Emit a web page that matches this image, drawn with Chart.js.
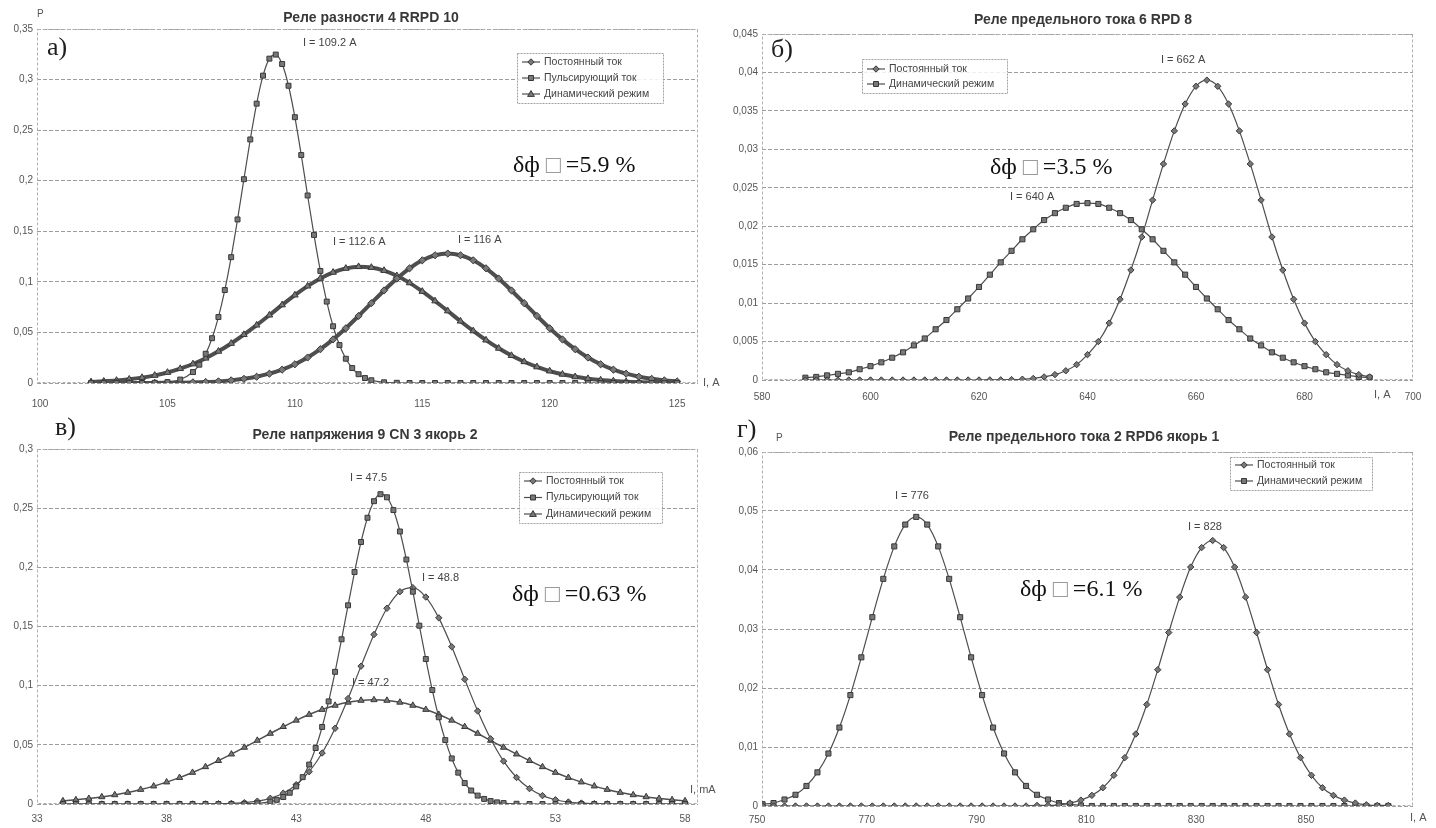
<!DOCTYPE html>
<html lang="ru">
<head>
<meta charset="utf-8">
<title>Распределения токов срабатывания реле</title>
<script src="https://cdn.jsdelivr.net/npm/chart.js"></script>
<style>
  html, body { margin: 0; padding: 0; background: #fff; }
  body { width: 1436px; height: 828px; position: relative; overflow: hidden; }
  .panel { position: absolute; }
</style>
</head>
<body>
<div class="panel" style="left:0;top:0;width:730px;height:412px"><canvas id="chartA"></canvas></div>
<div class="panel" style="left:718px;top:0;width:718px;height:412px"><canvas id="chartB"></canvas></div>
<div class="panel" style="left:0;top:412px;width:730px;height:416px"><canvas id="chartC"></canvas></div>
<div class="panel" style="left:718px;top:412px;width:718px;height:416px"><canvas id="chartD"></canvas></div>
<script>
// ---- a) Реле разности 4 RRPD 10 ----
const xA = [102,102.5,103,103.5,104,104.5,105,105.5,106,106.5,107,107.5,108,108.5,109,109.5,110,110.5,111,111.5,112,112.5,113,113.5,114,114.5,115,115.5,116,116.5,117,117.5,118,118.5,119,119.5,120,120.5,121,121.5,122,122.5,123,123.5,124,124.5,125];
const constA = [0,0,0,0,0.0001,0.0001,0.0002,0.0003,0.0006,0.0010,0.0016,0.0026,0.0041,0.0062,0.0092,0.0132,0.0185,0.0252,0.0334,0.0431,0.0541,0.0663,0.0789,0.0915,0.1032,0.1134,0.1213,0.1263,0.1280,0.1263,0.1213,0.1134,0.1032,0.0915,0.0789,0.0663,0.0541,0.0431,0.0334,0.0252,0.0185,0.0132,0.0092,0.0062,0.0041,0.0026,0.0016];
const dynA = [0.0011,0.0017,0.0025,0.0037,0.0053,0.0075,0.0104,0.0142,0.0188,0.0245,0.0313,0.0391,0.0478,0.0572,0.0671,0.0772,0.0869,0.0958,0.1034,0.1094,0.1133,0.1150,0.1142,0.1112,0.1060,0.0990,0.0905,0.0811,0.0712,0.0611,0.0515,0.0424,0.0343,0.0271,0.0210,0.0159,0.0118,0.0086,0.0061,0.0043,0.0029,0.0020,0.0013,0.0008,0.0005,0.0003,0.0002];
const xAPulse = [102,102.5,103,103.5,104,104.5,105,105.5,106,106.25,106.5,106.75,107,107.25,107.5,107.75,108,108.25,108.5,108.75,109,109.25,109.5,109.75,110,110.25,110.5,110.75,111,111.25,111.5,111.75,112,112.25,112.5,112.75,113,113.5,114,114.5,115,115.5,116,116.5,117,117.5,118,118.5,119,119.5,120,120.5,121,121.5,122,122.5,123,123.5,124,124.5,125];
const pulseA = [0,0,0,0,0,0.0002,0.0009,0.0034,0.0108,0.0181,0.0289,0.0443,0.0652,0.0919,0.1244,0.1617,0.2015,0.2408,0.2762,0.3039,0.3207,0.3247,0.3154,0.2939,0.2628,0.2254,0.1854,0.1464,0.1108,0.0805,0.0561,0.0375,0.0240,0.0148,0.0087,0.0049,0.0027,0.0007,0.0002,0,0,0,0,0,0,0,0,0,0,0,0,0,0,0,0,0,0,0,0,0,0];
const ticksXA = [100,105,110,115,120,125];
const ticksYA = [0,0.05,0.1,0.15,0.2,0.25,0.3,0.35];

// ---- б) Реле предельного тока 6 RPD 8 ----
const xB = [588,590,592,594,596,598,600,602,604,606,608,610,612,614,616,618,620,622,624,626,628,630,632,634,636,638,640,642,644,646,648,650,652,654,656,658,660,662,664,666,668,670,672,674,676,678,680,682,684,686,688,690,692];
const constB = [0,0,0,0,0,0,0,0,0,0,0,0,0,0,0,0,0,0.00001,0.00002,0.00005,0.0001,0.0002,0.0004,0.0007,0.0012,0.0020,0.0033,0.0050,0.0074,0.0105,0.0143,0.0186,0.0234,0.0281,0.0324,0.0359,0.0382,0.0390,0.0382,0.0359,0.0324,0.0281,0.0234,0.0186,0.0143,0.0105,0.0074,0.0050,0.0033,0.0020,0.0012,0.0007,0.0004];
const dynB = [0.0003,0.0004,0.0006,0.0008,0.0010,0.0014,0.0018,0.0023,0.0029,0.0036,0.0045,0.0054,0.0066,0.0078,0.0092,0.0106,0.0121,0.0137,0.0153,0.0168,0.0183,0.0196,0.0208,0.0217,0.0224,0.0229,0.0230,0.0229,0.0224,0.0217,0.0208,0.0196,0.0183,0.0168,0.0153,0.0137,0.0121,0.0106,0.0092,0.0078,0.0066,0.0054,0.0045,0.0036,0.0029,0.0023,0.0018,0.0014,0.0010,0.0008,0.0006,0.0004,0.0003];
const ticksXB = [580,600,620,640,660,680,700];
const ticksYB = [0,0.005,0.01,0.015,0.02,0.025,0.03,0.035,0.04,0.045];

// ---- в) Реле напряжения 9 CN 3 якорь 2 ----
const xC = [34,34.5,35,35.5,36,36.5,37,37.5,38,38.5,39,39.5,40,40.5,41,41.5,42,42.5,43,43.5,44,44.5,45,45.5,46,46.5,47,47.5,48,48.5,49,49.5,50,50.5,51,51.5,52,52.5,53,53.5,54,54.5,55,55.5,56,56.5,57,57.5,58];
const constC = [0,0,0,0,0,0,0,0,0,0,0.00003,0.0001,0.0002,0.0005,0.0011,0.0024,0.0048,0.0091,0.0163,0.0273,0.0431,0.0640,0.0891,0.1165,0.1432,0.1654,0.1794,0.1828,0.1749,0.1573,0.1329,0.1054,0.0786,0.0551,0.0362,0.0224,0.0130,0.0071,0.0036,0.0017,0.0008,0.0003,0.0001,0,0,0,0,0,0];
const dynC = [0.0026,0.0035,0.0046,0.0060,0.0077,0.0097,0.0122,0.0151,0.0185,0.0223,0.0266,0.0314,0.0366,0.0421,0.0478,0.0537,0.0596,0.0653,0.0707,0.0756,0.0798,0.0833,0.0859,0.0875,0.0880,0.0875,0.0859,0.0833,0.0798,0.0756,0.0707,0.0653,0.0596,0.0537,0.0478,0.0421,0.0366,0.0314,0.0266,0.0223,0.0185,0.0151,0.0122,0.0097,0.0077,0.0060,0.0046,0.0035,0.0026];
const xCPulse = [34,34.5,35,35.5,36,36.5,37,37.5,38,38.5,39,39.5,40,40.5,41,41.5,42,42.25,42.5,42.75,43,43.25,43.5,43.75,44,44.25,44.5,44.75,45,45.25,45.5,45.75,46,46.25,46.5,46.75,47,47.25,47.5,47.75,48,48.25,48.5,48.75,49,49.25,49.5,49.75,50,50.25,50.5,50.75,51,51.5,52,52.5,53,53.5,54,54.5,55,55.5,56,56.5,57,57.5,58];
const pulseC = [0,0,0,0,0,0,0,0,0,0,0,0,0,0,0.0002,0.0006,0.0020,0.0035,0.0059,0.0095,0.0149,0.0227,0.0333,0.0473,0.0651,0.0867,0.1117,0.1392,0.1679,0.1960,0.2214,0.2419,0.2559,0.2618,0.2592,0.2484,0.2303,0.2066,0.1794,0.1507,0.1225,0.0963,0.0733,0.0540,0.0385,0.0265,0.0177,0.0114,0.0071,0.0043,0.0025,0.0014,0.0008,0.0002,0,0,0,0,0,0,0,0,0,0,0,0,0];
const ticksXC = [33,38,43,48,53,58];
const ticksYC = [0,0.05,0.1,0.15,0.2,0.25,0.3];

// ---- г) Реле предельного тока 2 RPD6 якорь 1 ----
const xD = [751,753,755,757,759,761,763,765,767,769,771,773,775,777,779,781,783,785,787,789,791,793,795,797,799,801,803,805,807,809,811,813,815,817,819,821,823,825,827,829,831,833,835,837,839,841,843,845,847,849,851,853,855,857,859,861,863,865];
const dynD = [0.0003,0.0005,0.0011,0.0019,0.0034,0.0057,0.0089,0.0133,0.0188,0.0252,0.0320,0.0385,0.0440,0.0477,0.0490,0.0477,0.0440,0.0385,0.0320,0.0252,0.0188,0.0133,0.0089,0.0057,0.0034,0.0019,0.0011,0.0005,0.0003,0.0001,0,0,0,0,0,0,0,0,0,0,0,0,0,0,0,0,0,0,0,0,0,0,0,0,0,0,0,0];
const constD = [0,0,0,0,0,0,0,0,0,0,0,0,0,0,0,0,0,0,0,0,0,0,0,0,0,0.0001,0.0001,0.0002,0.0005,0.0010,0.0018,0.0031,0.0052,0.0082,0.0122,0.0172,0.0231,0.0294,0.0354,0.0405,0.0438,0.0450,0.0438,0.0405,0.0354,0.0294,0.0231,0.0172,0.0122,0.0082,0.0052,0.0031,0.0018,0.0010,0.0005,0.0002,0.0001,0.0001];
const ticksXD = [750,770,790,810,830,850];
const ticksYD = [0,0.01,0.02,0.03,0.04,0.05,0.06];

const NAME_CONST = 'Постоянный ток';
const NAME_PULSE = 'Пульсирующий ток';
const NAME_DYN = 'Динамический режим';

const SANS = '"Liberation Sans", Arial, sans-serif';
const SERIF = '"Liberation Serif", "Times New Roman", serif';
const LINE = '#4e4e4e';
const FILL = '#787878';
const EDGE = '#383838';

function pts(xs, ys) {
  return xs.map((x, i) => ({ x: x, y: ys[i] }));
}

function series(label, xs, ys, shape, r, lw) {
  return {
    label: label,
    data: pts(xs, ys),
    borderColor: LINE,
    borderWidth: lw,
    pointStyle: shape,
    pointRadius: r,
    pointBackgroundColor: FILL,
    pointBorderColor: EDGE,
    pointBorderWidth: 1,
    cubicInterpolationMode: 'monotone',
    fill: false
  };
}

function marker(ctx, shape, x, y) {
  ctx.beginPath();
  if (shape === 'rect') {
    ctx.rect(x - 2.5, y - 2.5, 5, 5);
  } else if (shape === 'rectRot') {
    ctx.moveTo(x, y - 3.2); ctx.lineTo(x + 3.2, y); ctx.lineTo(x, y + 3.2); ctx.lineTo(x - 3.2, y); ctx.closePath();
  } else {
    ctx.moveTo(x, y - 3.4); ctx.lineTo(x + 3.4, y + 2.4); ctx.lineTo(x - 3.4, y + 2.4); ctx.closePath();
  }
  ctx.fillStyle = FILL; ctx.strokeStyle = EDGE; ctx.lineWidth = 1;
  ctx.fill(); ctx.stroke();
}

function fmtY(v) {
  if (v === 0) return '0';
  return String(Math.round(v * 10000) / 10000).replace('.', ',');
}

function makeDecor(d) {
  return {
    id: 'decor',
    beforeDatasetsDraw(chart) {
      const { ctx, chartArea: a } = chart;
      ctx.save();
      ctx.strokeStyle = '#b0b0b0';
      ctx.lineWidth = 1;
      ctx.setLineDash([3, 2]);
      ctx.strokeRect(a.left + 0.5, a.top + 0.5, a.right - a.left - 1, a.bottom - a.top - 1);
      ctx.restore();
    },
    afterDraw(chart) {
      const ctx = chart.ctx;
      ctx.save();
      ctx.textBaseline = 'middle';

      // title
      ctx.fillStyle = '#383838';
      ctx.font = 'bold 14px ' + SANS;
      ctx.textAlign = 'center';
      ctx.fillText(d.title, d.titleAt[0], d.titleAt[1]);

      // panel letter
      ctx.textAlign = 'left';
      ctx.fillStyle = '#1e1e1e';
      ctx.font = '26px ' + SERIF;
      ctx.fillText(d.letter, d.letterAt[0], d.letterAt[1]);

      // axis names
      ctx.fillStyle = '#555';
      ctx.font = '10px ' + SANS;
      if (d.pAt) ctx.fillText('Р', d.pAt[0], d.pAt[1]);
      ctx.font = '11px ' + SANS;
      ctx.fillText(d.unit, d.unitAt[0], d.unitAt[1]);

      // peak labels
      ctx.fillStyle = '#444';
      ctx.font = '11px ' + SANS;
      d.peaks.forEach(p => ctx.fillText(p[0], p[1], p[2]));

      // error text
      let x = d.errAt[0];
      const y = d.errAt[1];
      ctx.fillStyle = '#111';
      ctx.font = '24px ' + SERIF;
      ctx.fillText('δф', x, y);
      x += ctx.measureText('δф ').width;
      ctx.strokeStyle = '#9a9a9a';
      ctx.lineWidth = 1;
      ctx.strokeRect(x + 0.5, y - 7.5, 14, 14);
      x += 20;
      ctx.fillText(d.err, x, y);

      // legend
      const L = d.legend;
      ctx.fillStyle = 'rgba(255,255,255,0.85)';
      ctx.fillRect(L.x, L.y, L.w, L.h);
      ctx.strokeStyle = '#a0a0a0';
      ctx.setLineDash([2, 1]);
      ctx.strokeRect(L.x + 0.5, L.y + 0.5, L.w, L.h);
      ctx.setLineDash([]);
      L.items.forEach((it, i) => {
        const iy = L.y + L.first + i * L.gap;
        ctx.strokeStyle = LINE;
        ctx.lineWidth = 1.2;
        ctx.beginPath();
        ctx.moveTo(L.x + 5, iy);
        ctx.lineTo(L.x + 23, iy);
        ctx.stroke();
        marker(ctx, it[1], L.x + 14, iy);
        ctx.fillStyle = '#444';
        ctx.font = '10.5px ' + SANS;
        ctx.fillText(it[0], L.x + 27, iy);
      });
      ctx.restore();
    }
  };
}

function makeChart(id, c) {
  return new Chart(document.getElementById(id), {
    type: 'line',
    data: { datasets: c.datasets },
    options: {
      responsive: true,
      maintainAspectRatio: false,
      animation: false,
      devicePixelRatio: 1,
      layout: { padding: { top: c.top, right: c.right, left: 0, bottom: 0 } },
      plugins: { legend: { display: false }, tooltip: { enabled: false } },
      scales: {
        x: {
          type: 'linear',
          min: c.xMin,
          max: c.xMax,
          grid: { display: false },
          border: { display: false },
          ticks: { color: '#555', font: { size: 10, family: SANS }, padding: c.xPad, maxRotation: 0, autoSkip: false },
          afterBuildTicks: s => { s.ticks = c.xTicks.map(v => ({ value: v })); },
          afterFit: s => { s.height = c.xH; }
        },
        y: {
          min: 0,
          max: c.yTicks[c.yTicks.length - 1],
          grid: { color: '#9c9c9c', lineWidth: 1, drawTicks: false },
          border: { display: false, dash: [4, 2] },
          ticks: { color: '#555', font: { size: 10, family: SANS }, padding: 4, autoSkip: false, callback: fmtY },
          afterBuildTicks: s => { s.ticks = c.yTicks.map(v => ({ value: v })); },
          afterFit: s => { s.width = c.yW; }
        }
      }
    },
    plugins: [makeDecor(c.decor)]
  });
}

makeChart('chartA', {
  datasets: [
    series(NAME_PULSE, xAPulse, pulseA, 'rect', 3.5, 1.2),
    series(NAME_CONST, xA, constA, 'rectRot', 3.6, 4),
    series(NAME_DYN, xA, dynA, 'triangle', 3.8, 4)
  ],
  xMin: 99.88, xMax: 125.82, xTicks: ticksXA, yTicks: ticksYA,
  top: 29, right: 32, yW: 37, xH: 29, xPad: 7,
  decor: {
    title: 'Реле разности 4 RRPD 10', titleAt: [371, 18],
    letter: 'а)', letterAt: [47, 48], pAt: [37, 14],
    unit: 'I, A', unitAt: [703, 383],
    peaks: [['I = 109.2 A', 303, 43], ['I = 112.6 A', 333, 242], ['I = 116 A', 458, 240]],
    err: '=5.9 %', errAt: [513, 166],
    legend: { x: 517, y: 53, w: 146, h: 50, first: 9, gap: 16,
      items: [[NAME_CONST, 'rectRot'], [NAME_PULSE, 'rect'], [NAME_DYN, 'triangle']] }
  }
});

makeChart('chartB', {
  datasets: [
    series(NAME_CONST, xB, constB, 'rectRot', 3.2, 1.2),
    series(NAME_DYN, xB, dynB, 'rect', 3.6, 1.2)
  ],
  xMin: 580, xMax: 700, xTicks: ticksXB, yTicks: ticksYB,
  top: 34, right: 23, yW: 44, xH: 32, xPad: 3,
  decor: {
    title: 'Реле предельного тока 6 RPD 8', titleAt: [365, 20],
    letter: 'б)', letterAt: [53, 50], pAt: null,
    unit: 'I, A', unitAt: [656, 395],
    peaks: [['I = 662 A', 443, 60], ['I = 640 A', 292, 197]],
    err: '=3.5 %', errAt: [272, 168],
    legend: { x: 144, y: 59, w: 145, h: 34, first: 10, gap: 15,
      items: [[NAME_CONST, 'rectRot'], [NAME_DYN, 'rect']] }
  }
});

makeChart('chartC', {
  datasets: [
    series(NAME_PULSE, xCPulse, pulseC, 'rect', 3.5, 1.2),
    series(NAME_CONST, xC, constC, 'rectRot', 3.2, 1.2),
    series(NAME_DYN, xC, dynC, 'triangle', 3.6, 1.5)
  ],
  xMin: 33, xMax: 58.5, xTicks: ticksXC, yTicks: ticksYC,
  top: 37, right: 32, yW: 37, xH: 24, xPad: 1,
  decor: {
    title: 'Реле напряжения 9 CN 3 якорь 2', titleAt: [365, 23],
    letter: 'в)', letterAt: [55, 16], pAt: null,
    unit: 'I, mA', unitAt: [690, 378],
    peaks: [['I = 47.5', 350, 66], ['I = 48.8', 422, 166], ['I = 47.2', 352, 271]],
    err: '=0.63 %', errAt: [512, 183],
    legend: { x: 519, y: 60, w: 143, h: 51, first: 9, gap: 16.5,
      items: [[NAME_CONST, 'rectRot'], [NAME_PULSE, 'rect'], [NAME_DYN, 'triangle']] }
  }
});

makeChart('chartD', {
  datasets: [
    series(NAME_CONST, xD, constD, 'rectRot', 3.2, 1.2),
    series(NAME_DYN, xD, dynD, 'rect', 3.6, 1.2)
  ],
  xMin: 750.9, xMax: 869.5, xTicks: ticksXD, yTicks: ticksYD,
  top: 40, right: 23, yW: 44, xH: 22, xPad: 0,
  decor: {
    title: 'Реле предельного тока 2 RPD6 якорь 1', titleAt: [366, 25],
    letter: 'г)', letterAt: [19, 18], pAt: [58, 26],
    unit: 'I, A', unitAt: [692, 406],
    peaks: [['I = 776', 177, 84], ['I = 828', 470, 115]],
    err: '=6.1 %', errAt: [302, 178],
    legend: { x: 512, y: 45, w: 142, h: 33, first: 8, gap: 16,
      items: [[NAME_CONST, 'rectRot'], [NAME_DYN, 'rect']] }
  }
});
</script>
</body>
</html>
